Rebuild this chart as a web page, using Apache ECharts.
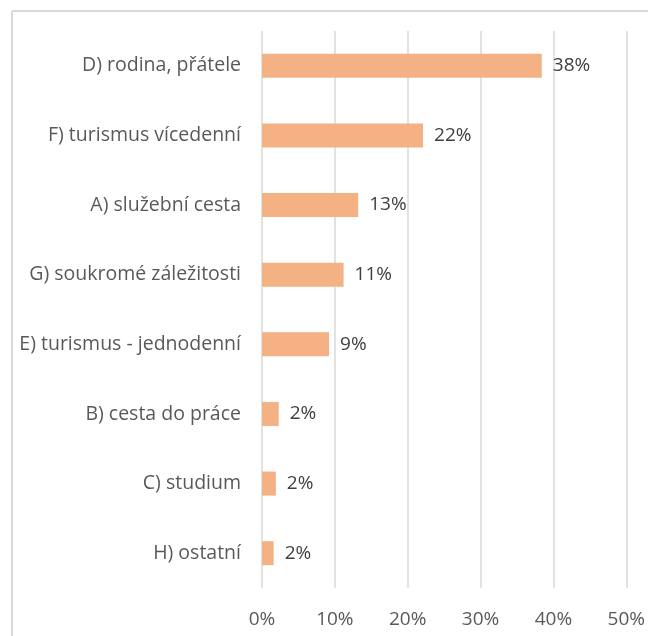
<!DOCTYPE html>
<html>
<head>
<meta charset="utf-8">
<script src="https://cdn.jsdelivr.net/npm/echarts@6/dist/echarts.min.js"></script>
<style>
html,body{margin:0;padding:0;background:#fff;}
#chart{width:648px;height:636px;}
</style>
</head>
<body>
<div id="chart"></div>
<script>
const categories = ["D) rodina, přátele","F) turismus vícedenní","A) služební cesta","G) soukromé záležitosti","E) turismus - jednodenní","B) cesta do práce","C) studium","H) ostatní"];
const values = [38.4, 22.1, 13.2, 11.2, 9.2, 2.3, 1.9, 1.6];
const labels = ["38%","22%","13%","11%","9%","2%","2%","2%"];
const xTicks = [0, 10, 20, 30, 40, 50];

const chart = echarts.init(document.getElementById('chart'));
const font = '"Open Sans", sans-serif';
chart.setOption({
  animation: false,
  backgroundColor: '#fff',
  graphic: [
    {type:'line', shape:{x1:12,y1:11,x2:648,y2:11}, style:{stroke:'#d9d9d9', lineWidth:2}},
    {type:'line', shape:{x1:12,y1:11,x2:12,y2:636}, style:{stroke:'#d9d9d9', lineWidth:2}}
  ],
  grid: {left: 262, right: 21, top: 31, bottom: 48},
  xAxis: {
    type: 'value', min: xTicks[0], max: xTicks[xTicks.length-1], interval: 10,
    axisLine:{show:false}, axisTick:{show:false},
    splitLine:{lineStyle:{color:'#d9d9d9', width:1.5}},
    axisLabel:{formatter: v => v + '%', color:'#595959', fontSize:19, fontFamily:font, margin:22}
  },
  yAxis: {
    type: 'category', data: categories, inverse: true,
    axisLine:{show:false}, axisTick:{show:false},
    axisLabel:{color:'#595959', fontSize:19.5, fontFamily:font, margin:21}
  },
  series: [{
    type: 'bar', data: values, barWidth: 24,
    itemStyle:{color:'#F4B183'},
    label:{show:true, position:'right', distance:11, color:'#404040', fontSize:19, fontFamily:font,
      formatter: p => labels[p.dataIndex]}
  }]
});
</script>
</body>
</html>
